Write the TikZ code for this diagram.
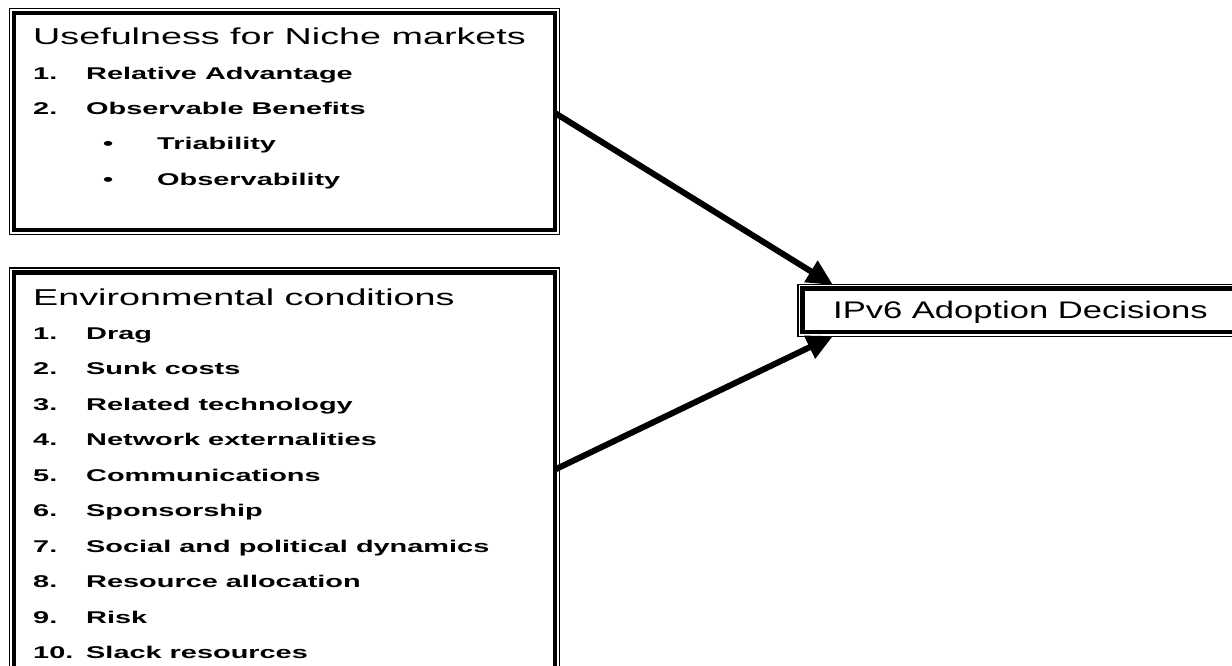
\documentclass[tikz,border=0pt]{standalone}
\usepackage{fontspec}
\setmainfont{Liberation Sans}
\usetikzlibrary{arrows.meta}
\tikzset{>=latex}
\tikzset{frame/.style = {draw, line width=4.5pt, outer sep=0pt, inner sep=0pt, anchor=north west}}
\tikzset{outline/.style = {draw, line width=1.2pt}}
\tikzset{title/.style = {anchor=base west, inner sep=0pt, font=\fontsize{23}{27}\selectfont}}
\tikzset{item/.style = {anchor=base west, inner sep=0pt, font=\fontsize{17}{20}\selectfont\bfseries}}
\tikzset{edge/.style = {-{Triangle[length=26pt,width=24pt]}, line width=6pt}}
\newcommand{\headtext}[1]{\scalebox{1.64}[1]{#1}}
\newcommand{\listtext}[1]{\scalebox{1.7}[1]{#1}}

\begin{document}
\begin{tikzpicture}[x=1pt,y=-1pt]
            \useasboundingbox (0,0) rectangle (1232,665);
            \clip (0,0) rectangle (1232,665);

            % Boxes
            \node[frame, minimum width=541pt, minimum height=217pt] (niche) at (14,13) {};
            \node[frame, minimum width=541pt, minimum height=420pt] (env) at (14,272.5) {};
            \node[frame, minimum width=450pt, minimum height=43.3pt] (ipv) at (802.5,288.7) {};

            % Outer thin lines
            \foreach \b in {niche,env,ipv}
                \draw[outline] ([shift={(-4.6pt,4.6pt)}]\b.north west) rectangle ([shift={(4.6pt,-4.6pt)}]\b.south east);

            % Usefulness for Niche markets
            \node[title] (nichetitle) at (33,44) {\headtext{Usefulness for Niche markets}};
            \node[item] (n1) at (33,79) {\listtext{1.}};
            \node[item] (t1) at (86,79) {\listtext{Relative Advantage}};
            \node[item] (n2) at (33,114) {\listtext{2.}};
            \node[item] (t2) at (86,114) {\listtext{Observable Benefits}};
            \node[item] (b1) at (103,149) {\listtext{\textbullet}};
            \node[item] (s1) at (157,149) {\listtext{Triability}};
            \node[item] (b2) at (103,185) {\listtext{\textbullet}};
            \node[item] (s2) at (157,185) {\listtext{Observability}};

            % Environmental conditions
            \node[title] (envtitle) at (33,305) {\headtext{Environmental conditions}};
            \foreach \n/\txt [count=\i from 0] in {1./Drag, 2./Sunk costs, 3./Related technology,
                4./Network externalities, 5./Communications, 6./Sponsorship,
                7./Social and political dynamics, 8./Resource allocation, 9./Risk, 10./Slack resources} {
                \node[item] (en\i) at (33,{339+35.5*\i}) {\listtext{\n}};
                \node[item] (et\i) at (86,{339+35.5*\i}) {\listtext{\txt}};
            }

            % IPv6 Adoption Decisions
            \node[title, font=\fontsize{24}{28}\selectfont] (ipvtitle) at (833,318) {\scalebox{1.44}[1]{IPv6 Adoption Decisions}};

            % Edges
            \draw[edge] ([yshift=8.5pt]niche.east) to ([shift={(30.5pt,3.7pt)}]ipv.north west);
            \draw[edge] ([yshift=13pt]env.east) to ([shift={(30.5pt,-4pt)}]ipv.south west);
        \end{tikzpicture}
\end{document}
